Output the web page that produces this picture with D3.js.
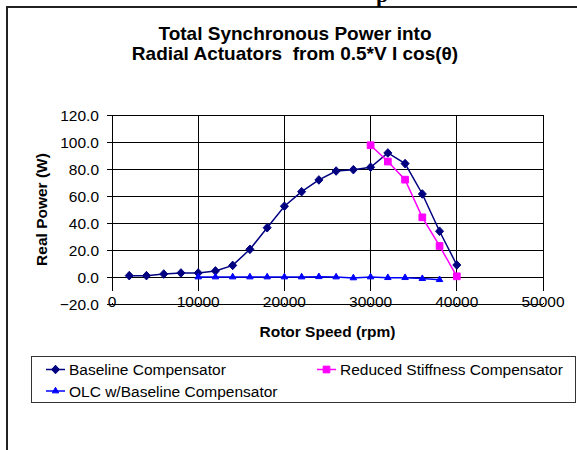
<!DOCTYPE html>
<html><head><meta charset="utf-8">
<script src="https://cdn.jsdelivr.net/npm/d3@7"></script>
<style>body{margin:0;background:#fff}svg{display:block}text{font-family:"Liberation Sans",Arial,sans-serif;white-space:pre}</style>
</head><body><svg id="c" width="577" height="450"></svg>
<script>
const titleLines = ["Total Synchronous Power into", "Radial Actuators  from 0.5*V I cos(\u03B8)"];
const xTicks = [0, 10000, 20000, 30000, 40000, 50000];
const yTicks = [-20, 0, 20, 40, 60, 80, 100, 120];
const seriesNames = ["Baseline Compensator", "Reduced Stiffness Compensator", "OLC w/Baseline Compensator"];
const baselineSpeed = [2000,4000,6000,8000,10000,12000,14000,16000,18000,20000,22000,24000,26000,28000,30000,32000,34000,36000,38000,40000];
const baselinePower = [1.0,1.0,2.2,3.0,3.0,4.5,8.6,20.5,36.5,52.4,63.2,71.9,78.5,79.5,81.3,91.9,84.0,61.5,33.9,8.9];
const reducedSpeed = [30000,32000,34000,36000,38000,40000];
const reducedPower = [97.6,85.5,72.1,44.2,23.0,0.5];
const olcSpeed = [10000,12000,14000,16000,18000,20000,22000,24000,26000,28000,30000,32000,34000,36000,38000];
const olcPower = [0.0,0.0,0.0,0.0,0.0,0.0,0.0,0.2,0.0,-0.7,0.0,-0.5,-0.5,-1.2,-2.0];

const svg = d3.select("#c");
// outer frame (extends beyond the window on the right and bottom)
svg.append("rect").attr("x",7).attr("y",7).attr("width",600).attr("height",480)
  .attr("fill","#fff").attr("stroke","#222").attr("stroke-width",2);
// fragment of page text above the frame
svg.append("text").attr("x",376).attr("y",2)
  .attr("font-weight","bold").attr("font-size",22).style("font-family","'Liberation Serif','Times New Roman',serif").text("p");

// title
svg.append("g").selectAll("text").data(titleLines).join("text")
  .attr("x",295).attr("y",(d,i)=>40+i*20).attr("text-anchor","middle")
  .attr("font-weight","bold").attr("font-size",19).text(d=>d);

const L=112,R=543,T=115,B=304;
const x = d3.scaleLinear().domain([0,50000]).range([L,R]);
const y = d3.scaleLinear().domain([-20,120]).range([B,T]);

const g = svg.append("g");
g.selectAll("line.h").data(yTicks).join("line")
  .attr("x1",L-5).attr("x2",R).attr("y1",d=>y(d)).attr("y2",d=>y(d))
  .attr("stroke","#000").attr("stroke-width",1).attr("shape-rendering","crispEdges");
g.selectAll("line.v").data(xTicks).join("line")
  .attr("x1",d=>x(d)).attr("x2",d=>x(d)).attr("y1",T).attr("y2",B)
  .attr("stroke","#000").attr("stroke-width",1).attr("shape-rendering","crispEdges");

svg.append("g").selectAll("text").data(yTicks).join("text")
  .attr("x",99).attr("y",d=>y(d)).attr("dy","0.36em").attr("text-anchor","end")
  .attr("font-size",15.5).text(d=>d3.format(".1f")(d));

const xl = svg.append("g");
xl.selectAll("rect").data(xTicks).join("rect")
  .attr("x",d=>x(d)-(String(d).length*4.4)).attr("width",d=>String(d).length*8.8)
  .attr("y",291).attr("height",12).attr("fill","#fff");
svg.append("line").attr("x1",L-5).attr("x2",R).attr("y1",B).attr("y2",B)
  .attr("stroke","#000").attr("shape-rendering","crispEdges");
xl.selectAll("text").data(xTicks).join("text")
  .attr("x",d=>x(d)).attr("y",307).attr("text-anchor","middle")
  .attr("font-size",15.5).text(d=>d);

svg.append("text").attr("x",(L+R)/2).attr("y",337).attr("text-anchor","middle")
  .attr("font-weight","bold").attr("font-size",15.5).text("Rotor Speed (rpm)");
svg.append("text").attr("transform",`translate(47,${(T+B)/2}) rotate(-90)`).attr("text-anchor","middle")
  .attr("font-weight","bold").attr("font-size",15.5).text("Real Power (W)");

const line = d3.line().x(d=>x(d[0])).y(d=>y(d[1]));
const diamondPath = "M0,-4.3L4,0L0,4.3L-4,0Z";
const square = d3.symbol().type(d3.symbolSquare).size(45);
const tri = d3.symbol().type(d3.symbolTriangle).size(18);

function drawSeries(xs, ys, color, sym, lw){
  const pts = xs.map((v,i)=>[v,ys[i]]);
  const gg = svg.append("g");
  gg.append("path").attr("d",line(pts)).attr("fill","none").attr("stroke",color).attr("stroke-width",lw);
  gg.selectAll("path.m").data(pts).join("path").attr("class","m")
    .attr("transform",d=>`translate(${x(d[0])},${y(d[1])})`).attr("d",sym).attr("fill",color).attr("stroke",color).attr("stroke-width",1);
}
drawSeries(baselineSpeed, baselinePower, "#000080", diamondPath, 1.5);
drawSeries(reducedSpeed, reducedPower, "#FF00FF", square, 1.5);
drawSeries(olcSpeed, olcPower, "#0000FF", tri, 1.5);

const lg = svg.append("g");
lg.append("rect").attr("x",31.5).attr("y",356.5).attr("width",544).attr("height",46)
  .attr("fill","#fff").attr("stroke","#333").attr("stroke-width",1);
const legendItems = [
  {name:seriesNames[0], color:"#000080", sym:diamondPath, lx:46, ly:369.5},
  {name:seriesNames[1], color:"#FF00FF", sym:square, lx:317, ly:369.5},
  {name:seriesNames[2], color:"#0000FF", sym:tri, lx:46, ly:391}
];
legendItems.forEach(it=>{
  lg.append("line").attr("x1",it.lx).attr("x2",it.lx+19).attr("y1",it.ly).attr("y2",it.ly)
    .attr("stroke",it.color).attr("stroke-width",1.5);
  lg.append("path").attr("transform",`translate(${it.lx+9.5},${it.ly})`).attr("d",it.sym)
    .attr("fill",it.color).attr("stroke",it.color);
  lg.append("text").attr("x",it.lx+23).attr("y",it.ly+5.5).attr("font-size",15.5).text(it.name);
});
</script></body></html>
